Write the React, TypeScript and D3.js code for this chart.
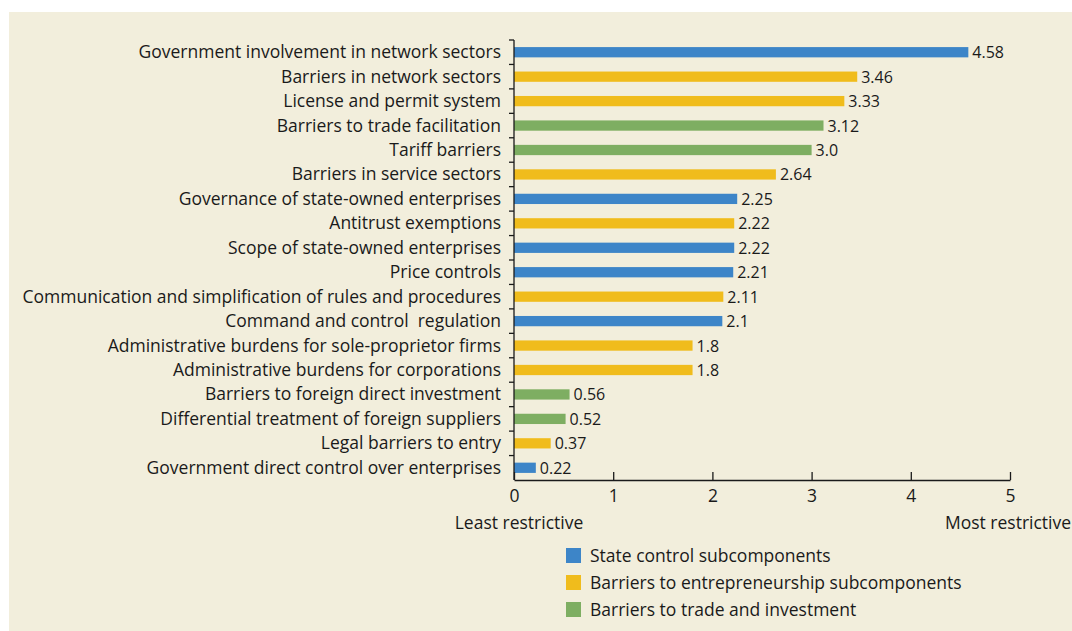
import React, { useRef, useEffect } from "react";
import * as d3 from "d3";

const categories = [
  "Government involvement in network sectors",
  "Barriers in network sectors",
  "License and permit system",
  "Barriers to trade facilitation",
  "Tariff barriers",
  "Barriers in service sectors",
  "Governance of state-owned enterprises",
  "Antitrust exemptions",
  "Scope of state-owned enterprises",
  "Price controls",
  "Communication and simplification of rules and procedures",
  "Command and control  regulation",
  "Administrative burdens for sole-proprietor firms",
  "Administrative burdens for corporations",
  "Barriers to foreign direct investment",
  "Differential treatment of foreign suppliers",
  "Legal barriers to entry",
  "Government direct control over enterprises",
];
const values = [4.58, 3.46, 3.33, 3.12, 3.0, 2.64, 2.25, 2.22, 2.22, 2.21, 2.11, 2.1, 1.8, 1.8, 0.56, 0.52, 0.37, 0.22];
const valueLabels = ["4.58", "3.46", "3.33", "3.12", "3.0", "2.64", "2.25", "2.22", "2.22", "2.21", "2.11", "2.1", "1.8", "1.8", "0.56", "0.52", "0.37", "0.22"];
// 0 = state control, 1 = entrepreneurship, 2 = trade and investment
const groups = [0, 1, 1, 2, 2, 1, 0, 1, 0, 0, 1, 0, 1, 1, 2, 2, 1, 0];
const groupNames = [
  "State control subcomponents",
  "Barriers to entrepreneurship subcomponents",
  "Barriers to trade and investment",
];
const groupColors = ["#3d85c8", "#f0bc1c", "#7eae62"];
const xTicks = [0, 1, 2, 3, 4, 5];

export default function App() {
  const svgRef = useRef<SVGSVGElement>(null);

  useEffect(() => {
    d3.select(svgRef.current).selectAll("*").remove();

    const width = 1072;
    const height = 631;
    const font = "'Open Sans', sans-serif";
    const ink = "#1a1a1a";
    const fs = 17.5;

    const svg = d3.select(svgRef.current)
      .attr("width", width)
      .attr("height", height)
      .style("font-family", font);

    svg.append("rect")
      .attr("x", 9)
      .attr("y", 12)
      .attr("width", width - 9)
      .attr("height", height - 12)
      .attr("fill", "#f2eedc");

    // scales
    const xScale = d3.scaleLinear().domain([0, 5]).range([514, 1010]);
    const yScale = d3.scaleBand<number>()
      .domain(d3.range(categories.length))
      .range([40, 480])
      .paddingInner(0.58)
      .paddingOuter(0.29);

    // bars
    svg.append("g")
      .selectAll("rect")
      .data(values)
      .join("rect")
      .attr("x", xScale(0))
      .attr("y", (d, i) => yScale(i)!)
      .attr("width", d => xScale(d) - xScale(0))
      .attr("height", yScale.bandwidth())
      .attr("fill", (d, i) => groupColors[groups[i]]);

    // value labels
    svg.append("g")
      .selectAll("text")
      .data(values)
      .join("text")
      .attr("x", d => xScale(d) + 4)
      .attr("y", (d, i) => yScale(i)! + yScale.bandwidth() / 2 + 6)
      .attr("font-size", 16)
      .attr("fill", ink)
      .text((d, i) => valueLabels[i]);

    // y axis: line with ticks at band boundaries
    const step = yScale.step();
    const yAxis = svg.append("g");
    yAxis.append("line")
      .attr("x1", xScale(0)).attr("x2", xScale(0))
      .attr("y1", 40).attr("y2", 480)
      .attr("stroke", ink).attr("stroke-width", 1.3);
    yAxis.selectAll(".ytick")
      .data(d3.range(categories.length))
      .join("line")
      .attr("class", "ytick")
      .attr("x1", xScale(0) - 5).attr("x2", xScale(0))
      .attr("y1", i => 40 + i * step)
      .attr("y2", i => 40 + i * step)
      .attr("stroke", ink).attr("stroke-width", 1.3);
    yAxis.selectAll(".ylabel")
      .data(categories)
      .join("text")
      .attr("class", "ylabel")
      .attr("x", xScale(0) - 13)
      .attr("y", (d, i) => yScale(i)! + yScale.bandwidth() / 2 + 6)
      .attr("text-anchor", "end")
      .attr("font-size", fs)
      .attr("fill", ink)
      .style("white-space", "pre")
      .text(d => d);

    // x axis
    const xAxis = d3.axisBottom(xScale)
      .tickValues(xTicks)
      .tickSize(8)
      .tickSizeOuter(0)
      .tickPadding(4)
      .tickFormat(d => String(d));
    const xg = svg.append("g")
      .attr("transform", "translate(0,480)")
      .call(xAxis);
    xg.select(".domain").attr("stroke", ink).attr("stroke-width", 1.3);
    xg.selectAll(".tick line").attr("stroke", ink).attr("stroke-width", 1.3)
      .attr("y1", -8).attr("y2", 0);
    xg.selectAll(".tick text")
      .attr("font-size", fs)
      .attr("font-family", font)
      .attr("fill", ink)
      .attr("y", 10);

    svg.append("text")
      .attr("x", xScale(0) + 5).attr("y", 529)
      .attr("text-anchor", "middle")
      .attr("font-size", fs).attr("fill", ink)
      .text("Least restrictive");
    svg.append("text")
      .attr("x", xScale(5) - 2).attr("y", 529)
      .attr("text-anchor", "middle")
      .attr("font-size", fs).attr("fill", ink)
      .text("Most restrictive");

    // legend
    const legend = svg.append("g")
      .selectAll("g")
      .data(groupNames)
      .join("g")
      .attr("transform", (d, i) => `translate(566,${548 + i * 27})`);
    legend.append("rect")
      .attr("width", 15).attr("height", 15)
      .attr("fill", (d, i) => groupColors[i]);
    legend.append("text")
      .attr("x", 24).attr("y", 13.5)
      .attr("font-size", fs).attr("fill", ink)
      .text(d => d);
  }, []);

  return (
    <div style={{ position: "absolute", left: 0, top: 0 }}>
      <svg ref={svgRef} style={{ display: "block" }}></svg>
    </div>
  );
}
